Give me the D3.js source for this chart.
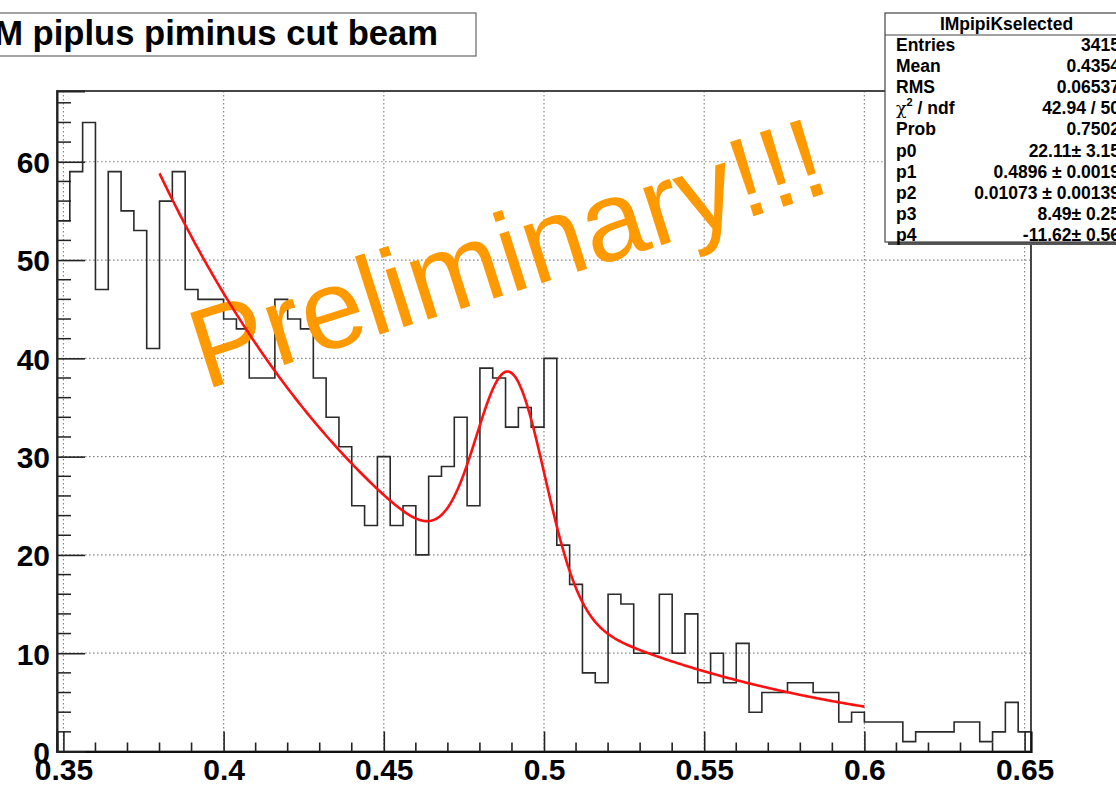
<!DOCTYPE html>
<html>
<head>
<meta charset="utf-8">
<script src="https://cdn.jsdelivr.net/npm/d3@7"></script>
<style>
  html, body { margin: 0; padding: 0; background: #fff; overflow: hidden; }
  svg { display: block; }
  text { font-family: "Liberation Sans", Arial, Helvetica, sans-serif; }
</style>
</head>
<body>
<svg id="chart" width="1116" height="785"></svg>
<script>
// Histogram binning: 76 bins of 0.004 starting at 0.348
const binLow = 0.348;
const binWidth = 0.004;
const binCounts = [
  54, 59, 64, 47, 59, 55, 53, 41, 56, 59,
  47, 46, 46, 44, 43, 38, 38, 46, 44, 43,
  38, 34, 31, 25, 23, 30, 23, 25, 20, 28,
  29, 34, 25, 39, 38, 33, 35, 33, 40, 21,
  17, 8, 7, 16, 15, 10, 10, 16, 10, 14,
  7, 10, 7, 11, 4, 6, 6, 7, 7, 6,
  6, 3, 4, 3, 3, 3, 1, 2, 2, 2,
  3, 3, 1, 2, 5, 2
];

// Fit: gaus(p0,p1,p2) + expo(p3,p4) over [0.38, 0.6]
const fitParams = [22.11, 0.4896, 0.01073, 8.49, -11.62];
const fitRange = [0.38, 0.6];

const xTicks = [0.35, 0.40, 0.45, 0.50, 0.55, 0.60, 0.65];
const xTickLabels = ["0.35", "0.4", "0.45", "0.5", "0.55", "0.6", "0.65"];
const yTicks = [0, 10, 20, 30, 40, 50, 60];
const yTickLabels = ["0", "10", "20", "30", "40", "50", "60"];
const yMax = 67.2;

const histTitle = "IM piplus piminus cut beam";
const statsTitle = "IMpipiKselected";
const statsLabels = ["Entries", "Mean", "RMS", "chi2", "Prob", "p0", "p1", "p2", "p3", "p4"];
const statsValues = ["3415", "0.4354", "0.06537", "42.94 / 50", "0.7502",
  "22.11\u00b1 3.15", "0.4896 \u00b1 0.0019", "0.01073 \u00b1 0.00139",
  "8.49\u00b1 0.25", "-11.62\u00b1 0.56"];
const watermark = "Preliminary!!!";

const svg = d3.select("#chart");
const frame = { left: 57, right: 1031, top: 91, bottom: 751.5 };
const nBins = binCounts.length;
const xMin = binLow, xMax = binLow + nBins * binWidth;

const x = d3.scaleLinear().domain([xMin, xMax]).range([frame.left, frame.right]);
const y = d3.scaleLinear().domain([0, yMax]).range([frame.bottom, frame.top]);

// dotted grid
const grid = svg.append("g").attr("stroke", "#8a8a8a").attr("stroke-width", 1.2)
  .attr("stroke-dasharray", "1.6,2.4");
grid.selectAll("line.gx").data(xTicks).join("line")
  .attr("x1", d => x(d)).attr("x2", d => x(d))
  .attr("y1", frame.top).attr("y2", frame.bottom);
grid.selectAll("line.gy").data(yTicks.filter(d => d > 0)).join("line")
  .attr("x1", frame.left).attr("x2", frame.right)
  .attr("y1", d => y(d)).attr("y2", d => y(d));

// histogram outline
const pts = binCounts.map((c, i) => [binLow + i * binWidth, c]);
pts.push([xMax, binCounts[nBins - 1]]);
svg.append("path")
  .attr("d", d3.line().x(d => x(d[0])).y(d => y(d[1])).curve(d3.curveStepAfter)(pts))
  .attr("fill", "none").attr("stroke", "#2a2a2a").attr("stroke-width", 1.6);

// frame
svg.append("rect")
  .attr("x", frame.left).attr("y", frame.top)
  .attr("width", frame.right - frame.left).attr("height", frame.bottom - frame.top)
  .attr("fill", "none").attr("stroke", "#333").attr("stroke-width", 1.8);

// x axis ticks (drawn inward)
const xAxis = d3.axisBottom(x).tickValues(xTicks).tickSize(-20).tickFormat((d, i) => xTickLabels[i]);
const gx = svg.append("g").attr("transform", `translate(0,${frame.bottom})`).call(xAxis);
gx.select(".domain").attr("stroke", "#111").attr("stroke-width", 2.2);
gx.selectAll(".tick line").attr("stroke", "#222").attr("stroke-width", 1.6);
gx.selectAll(".tick text").attr("font-size", 30).attr("font-weight", "bold")
  .attr("fill", "#000").attr("y", 7).attr("dy", "0.71em");
const xMinor = d3.range(35, 66).map(v => v / 100).filter(v => !xTicks.some(t => Math.abs(t - v) < 1e-9));
svg.append("g").selectAll("line").data(xMinor).join("line")
  .attr("x1", d => x(d)).attr("x2", d => x(d))
  .attr("y1", frame.bottom).attr("y2", frame.bottom - 9)
  .attr("stroke", "#222").attr("stroke-width", 1.6);

// y axis ticks (drawn inward)
const yAxis = d3.axisLeft(y).tickValues(yTicks).tickSize(-28).tickFormat((d, i) => yTickLabels[i]);
const gy = svg.append("g").attr("transform", `translate(${frame.left},0)`).call(yAxis);
gy.select(".domain").attr("stroke", "#222").attr("stroke-width", 2);
gy.selectAll(".tick line").attr("stroke", "#222").attr("stroke-width", 1.6);
gy.selectAll(".tick text").attr("font-size", 30).attr("font-weight", "bold")
  .attr("fill", "#000").attr("x", -7).attr("dy", "0.36em");
const yMinor = d3.range(2, 67, 2).filter(v => v % 10 !== 0);
svg.append("g").selectAll("line").data(yMinor).join("line")
  .attr("x1", frame.left).attr("x2", frame.left + 14)
  .attr("y1", d => y(d)).attr("y2", d => y(d))
  .attr("stroke", "#222").attr("stroke-width", 1.5);

// watermark
svg.append("text")
  .attr("transform", "translate(205,390) rotate(-17.6)")
  .attr("font-size", 113).attr("fill", "#ff9900")
  .text(watermark);

// fitted function
const [p0, p1, p2, p3, p4] = fitParams;
const fitFn = v => p0 * Math.exp(-0.5 * Math.pow((v - p1) / p2, 2)) + Math.exp(p3 + p4 * v);
const fitX = d3.range(0, 401).map(i => fitRange[0] + (fitRange[1] - fitRange[0]) * i / 400);
svg.append("path")
  .attr("d", d3.line().x(v => x(v)).y(v => y(fitFn(v)))(fitX))
  .attr("fill", "none").attr("stroke", "#ff1010").attr("stroke-width", 2.6);

// histogram title box
svg.append("rect").attr("x", -20).attr("y", 13).attr("width", 496).attr("height", 43)
  .attr("fill", "#fff").attr("stroke", "#666").attr("stroke-width", 1.2);
svg.append("text").attr("x", 438).attr("y", 45).attr("text-anchor", "end")
  .attr("font-size", 34.6).attr("font-weight", "bold").attr("fill", "#000")
  .text(histTitle);

// statistics box
const sb = { x: 885, y: 13, w: 250, h: 229 };
svg.append("rect").attr("x", sb.x + 3).attr("y", sb.y + 3).attr("width", sb.w).attr("height", sb.h)
  .attr("fill", "#555");
svg.append("rect").attr("x", sb.x).attr("y", sb.y).attr("width", sb.w).attr("height", sb.h)
  .attr("fill", "#fff").attr("stroke", "#444").attr("stroke-width", 1.2);
svg.append("line").attr("x1", sb.x).attr("x2", sb.x + sb.w).attr("y1", 35).attr("y2", 35)
  .attr("stroke", "#444").attr("stroke-width", 1.2);
svg.append("text").attr("x", 1006.5).attr("y", 30).attr("text-anchor", "middle")
  .attr("font-size", 17.5).attr("font-weight", "bold").text(statsTitle);
const rowY = i => 51 + i * 21.1;
statsLabels.forEach((lab, i) => {
  const t = svg.append("text").attr("x", 896).attr("y", rowY(i))
    .attr("font-size", 17.5).attr("font-weight", "bold");
  if (lab === "chi2") {
    t.append("tspan").attr("font-weight", "normal").attr("font-family", "'DejaVu Serif', serif").text("\u03c7");
    t.append("tspan").attr("font-size", 11).attr("dy", -8).text("2");
    t.append("tspan").attr("dy", 8).text(" / ndf");
  } else {
    t.text(lab);
  }
});
statsValues.forEach((v, i) => {
  svg.append("text").attr("x", 1120).attr("y", rowY(i)).attr("text-anchor", "end")
    .attr("font-size", 17.5).attr("font-weight", "bold").text(v);
});
</script>
</body>
</html>
